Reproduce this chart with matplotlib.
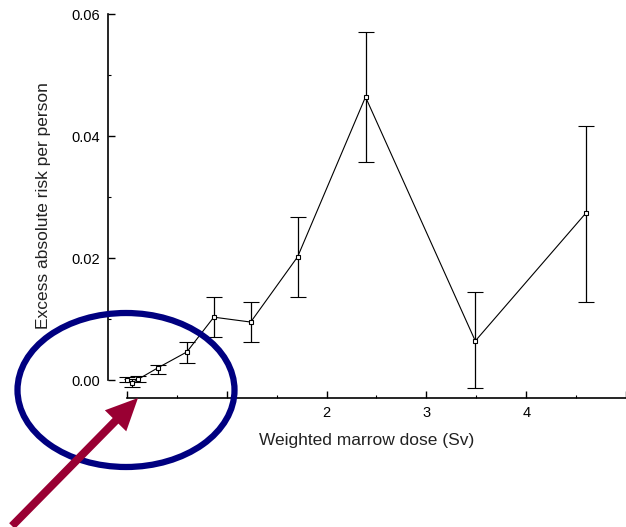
import matplotlib.pyplot as plt
from matplotlib.patches import Ellipse, FancyArrow
from matplotlib.ticker import MultipleLocator

plt.rcParams["font.family"] = ["Liberation Sans", "DejaVu Sans"]

# weighted marrow dose (Sv) and excess absolute risk with error bar limits
dose = [0.005, 0.05, 0.11, 0.31, 0.60, 0.87, 1.24, 1.71, 2.39, 3.49, 4.60]
risk = [0.0000, -0.0005, 0.0001, 0.0020, 0.0046, 0.0103, 0.0095, 0.0202, 0.0464, 0.0064, 0.0274]
upper = [0.0005, 0.0002, 0.0007, 0.0025, 0.0062, 0.0136, 0.0128, 0.0267, 0.0570, 0.0144, 0.0416]
lower = [-0.0004, -0.0012, -0.0003, 0.0010, 0.0028, 0.0070, 0.0062, 0.0136, 0.0357, -0.0013, 0.0128]

x_ticks = [0, 1, 2, 3, 4, 5]
x_labels = ["", "", "2", "3", "4", ""]  # 0, 1 and 5 are hidden/cut off in the scan
y_ticks = [0.00, 0.02, 0.04, 0.06]

W, H = 626, 527
fig = plt.figure(figsize=(W / 100, H / 100), dpi=100)
ax = fig.add_axes([108 / W, 1 - 398 / H, (W - 108) / W, (398 - 14) / H])

err = [[r - lo for r, lo in zip(risk, lower)], [up - r for r, up in zip(risk, upper)]]
ax.errorbar(dose, risk, yerr=err, color="black", lw=0.8, elinewidth=0.9,
            capsize=6, capthick=0.9, marker="s", ms=3.5, mfc="white", mec="black", mew=0.8)

ax.set_xlim(-0.19, 4.99)
ax.set_ylim(-0.00295, 0.06)
ax.spines["top"].set_visible(False)
ax.spines["right"].set_visible(False)
ax.spines["left"].set_bounds(0, 0.06)
ax.spines["bottom"].set_bounds(0, 5)
ax.spines["left"].set_linewidth(1.2)
ax.spines["bottom"].set_linewidth(1.2)

ax.set_xticks(x_ticks)
ax.set_xticklabels(x_labels)
ax.xaxis.set_minor_locator(MultipleLocator(0.5))
ax.set_yticks(y_ticks)
ax.set_yticklabels([f"{t:.2f}" for t in y_ticks])
ax.yaxis.set_minor_locator(MultipleLocator(0.01))
ax.tick_params(which="major", direction="in", length=5, width=1, labelsize=10.5, pad=6)
ax.tick_params(which="minor", direction="in", length=2.5, width=0.8)

ax.set_xlabel("Weighted marrow dose (Sv)", fontsize=12.5, color="#222222", labelpad=9)
ax.set_ylabel("Excess absolute risk per person", fontsize=12.5, color="#222222", labelpad=14)

# annotation overlay in pixel coordinates
ov = fig.add_axes([0, 0, 1, 1], facecolor="none")
ov.set_xlim(0, W)
ov.set_ylim(H, 0)
ov.axis("off")
ov.add_patch(Ellipse((126, 390), 217, 154, fill=False, ec="#000080", lw=4.5))
ov.add_patch(FancyArrow(12, 526, 126, -128, width=8, head_width=30, head_length=32,
                        length_includes_head=True, color="#990033", lw=0))

fig.savefig("out.png", dpi=100)
